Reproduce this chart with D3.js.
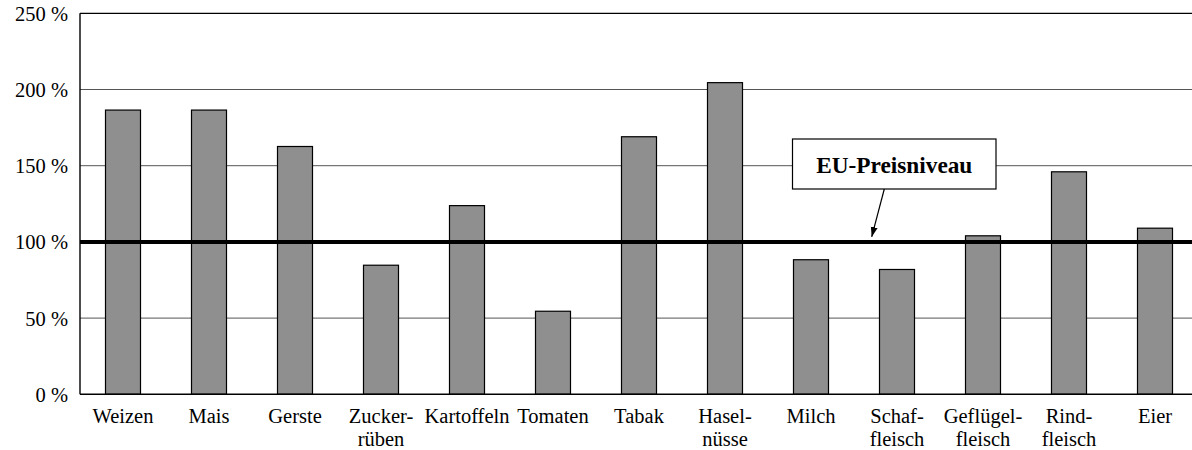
<!DOCTYPE html>
<html>
<head>
<meta charset="utf-8">
<script src="https://cdn.jsdelivr.net/npm/d3@7"></script>
<style>
  html, body { margin: 0; padding: 0; background: #fff; }
  svg { display: block; }
</style>
</head>
<body>
<svg id="chart" width="1192" height="450"></svg>
<script>
// ---- data ----
const categories = ["Weizen", "Mais", "Gerste", "Zuckerrüben", "Kartoffeln", "Tomaten", "Tabak",
                    "Haselnüsse", "Milch", "Schaffleisch", "Geflügelfleisch", "Rindfleisch", "Eier"];
const labelLines = [["Weizen"], ["Mais"], ["Gerste"], ["Zucker-", "rüben"], ["Kartoffeln"], ["Tomaten"], ["Tabak"],
                    ["Hasel-", "nüsse"], ["Milch"], ["Schaf-", "fleisch"], ["Geflügel-", "fleisch"], ["Rind-", "fleisch"], ["Eier"]];
const values = [186.5, 186.5, 162.6, 84.7, 123.8, 54.5, 169, 204.5, 88.3, 81.9, 104, 146, 109];
const yTicks = [0, 50, 100, 150, 200, 250];
const euLevel = 100;
const annotationText = "EU-Preisniveau";

// ---- layout ----
const FONT = "'Liberation Serif', Tinos, 'DejaVu Serif', serif";
const svg = d3.select("#chart").attr("font-family", FONT);
const W = 1192, H = 450;
const plotLeft = 80, plotRight = 1198, plotTop = 13.3, plotBottom = 394.3;

const x = d3.scaleBand().domain(categories).range([plotLeft, plotRight])
  .paddingInner(0.593).paddingOuter(0.2965);
const y = d3.scaleLinear().domain([0, 250]).range([plotBottom, plotTop]);

// defs
svg.append("defs").append("marker")
  .attr("id", "arrow").attr("viewBox", "0 0 10 10")
  .attr("refX", 10).attr("refY", 5)
  .attr("markerWidth", 10).attr("markerHeight", 10)
  .attr("markerUnits", "userSpaceOnUse")
  .attr("orient", "auto")
  .append("path").attr("d", "M0,1.5 L10,5 L0,8.5 Z").attr("fill", "#000");

// gridlines (inner)
svg.append("g").selectAll("line")
  .data(yTicks.filter(t => t !== 0 && t !== 250 && t !== euLevel))
  .join("line")
  .attr("x1", plotLeft).attr("x2", W)
  .attr("y1", d => y(d)).attr("y2", d => y(d))
  .attr("stroke", "#555").attr("stroke-width", 1);

// top border
svg.append("line")
  .attr("x1", plotLeft).attr("x2", W)
  .attr("y1", y(250)).attr("y2", y(250))
  .attr("stroke", "#000").attr("stroke-width", 1.2);

// bars
svg.append("g").selectAll("rect")
  .data(values)
  .join("rect")
  .attr("x", (d, i) => x(categories[i]))
  .attr("width", x.bandwidth())
  .attr("y", d => y(d))
  .attr("height", d => y(0) - y(d))
  .attr("fill", "#8f8f8f")
  .attr("stroke", "#000").attr("stroke-width", 1.2);

// axes lines
svg.append("line")
  .attr("x1", plotLeft).attr("x2", plotLeft)
  .attr("y1", y(250)).attr("y2", y(0))
  .attr("stroke", "#000").attr("stroke-width", 1.4);
svg.append("line")
  .attr("x1", plotLeft).attr("x2", W)
  .attr("y1", y(0)).attr("y2", y(0))
  .attr("stroke", "#000").attr("stroke-width", 1.4);

// EU level line
svg.append("line")
  .attr("x1", plotLeft).attr("x2", W)
  .attr("y1", y(euLevel)).attr("y2", y(euLevel))
  .attr("stroke", "#000").attr("stroke-width", 4);

// y tick labels
svg.append("g").selectAll("text")
  .data(yTicks)
  .join("text")
  .attr("x", 68)
  .attr("y", d => y(d) + 7.5)
  .attr("text-anchor", "end")
  .attr("font-size", 20.5)
  .attr("fill", "#000")
  .text(d => d + " %");

// x labels
const xl = svg.append("g").selectAll("text")
  .data(categories)
  .join("text")
  .attr("text-anchor", "middle")
  .attr("font-size", 20.5)
  .attr("fill", "#000")
  .attr("x", d => x(d) + x.bandwidth() / 2)
  .attr("y", 422.5);
xl.each(function (d, i) {
  const t = d3.select(this);
  labelLines[i].forEach((ln, j) => {
    t.append("tspan")
      .attr("x", x(d) + x.bandwidth() / 2)
      .attr("dy", j === 0 ? 0 : 23.3)
      .text(ln);
  });
});

// annotation box
const bx = 792.5, by = 139, bw = 203.5, bh = 50;
svg.append("rect")
  .attr("x", bx).attr("y", by).attr("width", bw).attr("height", bh)
  .attr("fill", "#fff").attr("stroke", "#000").attr("stroke-width", 1.2);
svg.append("text")
  .attr("x", bx + bw / 2).attr("y", by + 33.5)
  .attr("text-anchor", "middle")
  .attr("font-size", 23.3).attr("font-weight", "bold")
  .attr("fill", "#000")
  .text(annotationText);

// arrow
svg.append("line")
  .attr("x1", 884.3).attr("y1", by + bh)
  .attr("x2", 871.7).attr("y2", y(euLevel) - 5)
  .attr("stroke", "#000").attr("stroke-width", 1.2)
  .attr("marker-end", "url(#arrow)");
</script>
</body>
</html>
